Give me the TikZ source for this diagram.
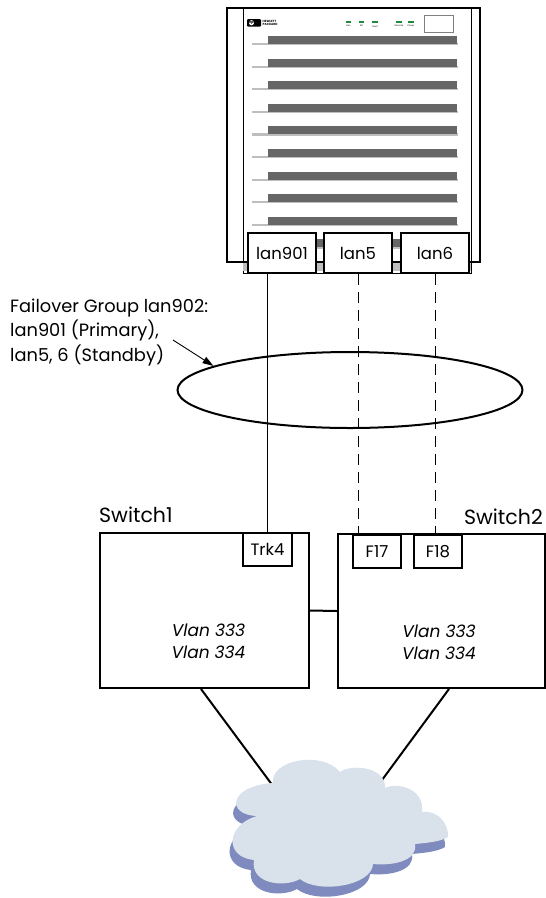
\documentclass[tikz,border=0pt]{standalone}
\usepackage{fontspec}
\setmainfont{Poppins}
\usetikzlibrary{shapes.geometric,arrows.meta,calc}
\definecolor{barcol}{HTML}{666666}
\definecolor{barshade}{HTML}{BEBEBE}
\definecolor{cloudface}{HTML}{D9E1EA}
\definecolor{cloudshadow}{HTML}{7F8BBE}
\definecolor{ledgreen}{HTML}{1E8B3C}
\begin{document}
\begin{tikzpicture}[x=1pt,y=-1pt,
  port/.style={draw,line width=1.6pt,fill=white,inner sep=0pt,
    font=\fontsize{16.5}{18}\selectfont},
  switchbox/.style={draw,line width=2pt,inner sep=0pt},
  vlan/.style={align=center,inner sep=0pt,font=\fontsize{17}{22}\selectfont\itshape},
  swlabel/.style={inner sep=0pt,font=\fontsize{20.5}{22}\selectfont},
  note/.style={inner sep=0pt,font=\fontsize{17.8}{24}\selectfont},
  wire/.style={line width=2pt},
  tap/.style={line width=0.9pt},
  standbytap/.style={line width=0.9pt,dash pattern=on 11pt off 7pt},
  tiny/.style={inner sep=0pt,font=\fontsize{2.2}{2.4}\selectfont}]
\useasboundingbox (0,0) rectangle (546,898);

% ---- server cabinet ----
\draw[line width=0.8pt] (243,8) rectangle (471,273);
\foreach \i in {0,...,9}{
  \pgfmathsetmacro\yt{36+22.6*\i}
  \fill[barshade] (252,\yt+7) rectangle (458,\yt+9.2);
  \fill[barcol] (268,\yt) rectangle (457,\yt+8);
}
\fill[barshade] (243,263) rectangle (471,271);
\draw[line width=2pt] (227,8) rectangle (480,262);

% front panel: logo, indicators, display window
\fill[black,rounded corners=1pt] (247,19) rectangle (261,26.5);
\fill[white] (251.5,22.75) circle (2.6pt);
\node[inner sep=0pt,font=\fontsize{3.6}{4}\selectfont\itshape\bfseries] (hplogo) at (251.5,22.7) {hp};
\node[anchor=west,align=left,inner sep=0pt,font=\fontsize{3}{3.2}\selectfont\bfseries] (hpname) at (262.5,22.7) {HEWLETT\\PACKARD};
\foreach \x/\t in {348.5/Run,361.5/Att,375/Fault,399/Remote,411/Power}{
  \fill[ledgreen] (\x-2.6,21.3) rectangle (\x+2.6,23.2);
  \node[tiny] at (\x,26.2) {\t};
}
\draw[gray,line width=0.6pt] (424,15) rectangle (453,32);

% LAN ports
\node[port,minimum width=68pt,minimum height=40pt] (lan901) at (282,253) {lan901};
\node[port,minimum width=68pt,minimum height=40pt] (lan5) at (358,253) {lan5};
\node[port,minimum width=68pt,minimum height=40pt] (lan6) at (435,253) {lan6};

% failover group
\node[draw,ellipse,line width=2pt,minimum width=345pt,minimum height=76pt,inner sep=0pt] (grp) at (350,390) {};
\node[note,anchor=base west] (fg1) at (10,312) {Failover Group lan902:};
\node[note,anchor=base west] (fg2) at (10,336.5) {lan901 (Primary),};
\node[note,anchor=base west] (fg3) at (10,361) {lan5, 6 (Standby)};
\coordinate (pointer) at (173,340);
\draw[line width=0.9pt,-{Triangle[length=11pt,width=7pt]}] (pointer) -- (grp.170);

% switches
\node[switchbox,minimum width=209pt,minimum height=155pt] (sw1) at (204.5,610.5) {};
\node[switchbox,minimum width=207pt,minimum height=154pt] (sw2) at (441.5,611) {};
\node[swlabel,anchor=base west] (sw1name) at (99,522) {Switch1};
\node[swlabel,anchor=base east] (sw2name) at (543,524) {Switch2};
\node[port,minimum width=49pt,minimum height=33pt] (trk4) at (267.5,549.5) {Trk4};
\node[port,minimum width=48pt,minimum height=33pt] (f17) at (377,551.5) {F17};
\node[port,minimum width=48pt,minimum height=33pt] (f18) at (438,551.5) {F18};
\node[vlan,anchor=north] (vl1) at (208.5,624) {Vlan 333\\Vlan 334};
\node[vlan,anchor=north] (vl2) at (439,625) {Vlan 333\\Vlan 334};

% links
\draw[tap] (trk4.north |- lan901.south) -- (trk4.north);
\draw[standbytap] (lan5.south) -- (lan5.south |- f17.north);
\draw[standbytap] (lan6.south) -- (lan6.south |- f18.north);
\draw[wire] (sw1.east) -- (sw2.west);
\coordinate (net1) at (273,786);
\coordinate (net2) at (382,780);
\draw[wire] ($(sw1.south)+(-3.5,0)$) -- (net1);
\draw[wire] ($(sw2.south)+(7.5,0)$) -- (net2);

% network cloud with its shadow
\foreach \dx/\dy/\col in {-3/10/cloudshadow,0/0/cloudface}{
  \fill[\col,shift={(\dx,\dy)}]
    (273,783) .. controls (270,760) and (322,750) .. (340,772)
    .. controls (350,764) and (386,766) .. (385,788)
    .. controls (396,782) and (425,788) .. (422,812)
    .. controls (440,810) and (449,826) .. (448,837)
    .. controls (440,842) and (425,843) .. (415,844)
    .. controls (418,860) and (395,866) .. (373,864)
    .. controls (372,886) and (318,894) .. (300,879)
    .. controls (284,888) and (250,884) .. (254,860)
    .. controls (224,857) and (226,825) .. (257,816)
    .. controls (226,815) and (228,786) .. (273,783) -- cycle;
}
\end{tikzpicture}
\end{document}
